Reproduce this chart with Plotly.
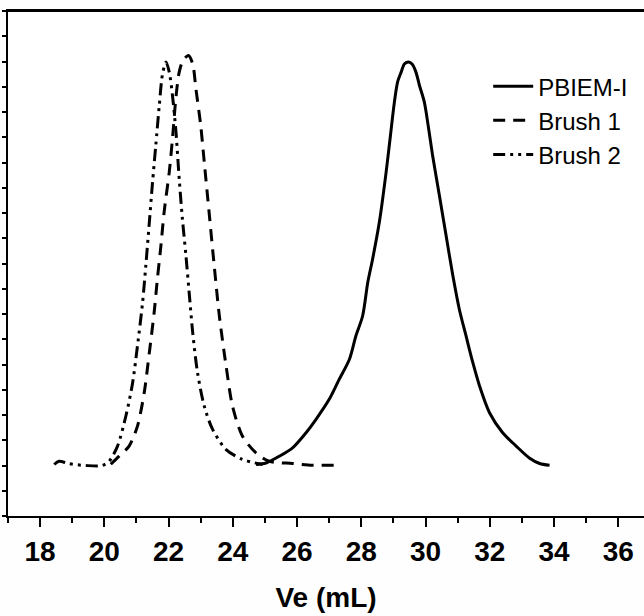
import plotly.graph_objects as go

# PBIEM-I (solid)
pb_x = [24.72, 25.03, 25.45, 25.86, 26.28, 26.59, 27.0, 27.31, 27.63, 27.83, 28.04, 28.2, 28.35,
        28.56, 28.77, 28.9, 29.03, 29.13, 29.24, 29.34, 29.47, 29.58, 29.7, 29.81, 29.96,
        30.1, 30.22, 30.43, 30.64, 30.85, 31.05, 31.26, 31.47, 31.68, 31.99, 32.4, 32.82,
        33.23, 33.55, 33.86]
pb_y = [0.04, 0.1, 0.37, 0.70, 1.3, 1.83, 2.62, 3.41, 4.21, 5.13, 5.92, 7.25, 8.17,
        9.63, 11.6, 13.0, 14.4, 15.19, 15.58, 15.9, 15.98, 15.9, 15.58, 15.05, 14.4,
        13.3, 12.27, 10.69, 9.1, 7.51, 6.19, 5.13, 4.08, 3.15, 2.09, 1.3, 0.77,
        0.3, 0.08, 0.01]

# Brush 1 (dashed)
b1_x = [20.2, 20.46, 20.77, 21.03, 21.24, 21.4, 21.55, 21.65, 21.76, 21.86, 22.02, 22.12, 22.23,
        22.33, 22.45, 22.62, 22.75, 22.85, 23.0, 23.11, 23.26, 23.42, 23.58, 23.79, 23.99,
        24.3, 24.72, 25.13, 25.86, 26.48, 27.16]
b1_y = [0.05, 0.37, 0.77, 1.56, 2.88, 4.47, 6.06, 7.38, 8.7, 10.03, 11.62, 12.94, 14.6,
        15.58, 16.05, 16.24, 15.9, 14.92, 13.46, 12.01, 10.03, 7.91, 5.92, 3.94, 2.35,
        1.16, 0.5, 0.17, 0.08, 0.01, 0.01]

# Brush 2 (dash-dot-dot)
b2_x = [18.44, 18.59, 18.9, 19.42, 19.94, 20.15, 20.41, 20.67, 20.88, 21.03, 21.19, 21.29, 21.4,
        21.5, 21.6, 21.71, 21.81, 21.92, 22.02, 22.12, 22.23, 22.33, 22.43, 22.54, 22.64,
        22.75, 22.9, 23.11, 23.37, 23.79, 24.3, 24.93]
b2_y = [0.04, 0.17, 0.07, 0.0, 0.0, 0.17, 0.77, 1.96, 3.28, 4.73, 6.46, 7.91, 9.63,
        11.22, 12.67, 14.26, 15.5, 15.98, 15.58, 14.66, 13.2, 11.35, 9.76, 8.31, 6.85,
        5.27, 3.68, 2.35, 1.43, 0.63, 0.24, 0.04]

names = ["PBIEM-I", "Brush 1", "Brush 2"]
dashes = ["solid", "12px,8px", "12px,5px,3px,5px,3px,5px"]

fig = go.Figure()
for xs, ys, nm, ds in zip([pb_x, b1_x, b2_x], [pb_y, b1_y, b2_y], names, dashes):
    fig.add_trace(go.Scatter(x=xs, y=ys, mode="lines", name=nm,
                             line=dict(color="black", width=3, dash=ds, shape="spline", smoothing=0.8)))

# top frame line
fig.add_shape(type="line", xref="paper", yref="paper", x0=0, x1=1, y0=1, y1=1,
              line=dict(color="black", width=2), layer="above")

fig.update_layout(
    width=644, height=616,
    margin=dict(l=8, r=0, t=11, b=100),
    paper_bgcolor="#fefefe", plot_bgcolor="#ffffff",
    font=dict(family="Liberation Sans, Arial, sans-serif", color="black"),
    showlegend=True,
    legend=dict(x=0.755, y=0.895, xanchor="left", yanchor="top",
                font=dict(size=24, family="Liberation Sans, Arial, sans-serif"),
                bgcolor="rgba(0,0,0,0)", itemwidth=40),
    xaxis=dict(range=[17, 36.8], tickmode="linear", tick0=18, dtick=2,
               ticks="outside", ticklen=9, tickwidth=2, tickcolor="black",
               minor=dict(dtick=1, tick0=17, ticks="outside", ticklen=5, tickwidth=2, tickcolor="black"),
               showline=True, linewidth=2, linecolor="black", mirror=True,
               showgrid=False, zeroline=False,
               tickfont=dict(size=28, weight="bold"),
               title=dict(text="Ve (mL)", font=dict(size=28, weight="bold"), standoff=22)),
    yaxis=dict(range=[-2, 18], tickmode="linear", tick0=0, dtick=1,
               ticks="outside", ticklen=4, tickwidth=2, tickcolor="black",
               showticklabels=False, automargin=False,
               showline=True, linewidth=2, linecolor="black", mirror=False,
               showgrid=False, zeroline=False),
)

fig.write_html("out.html", config={"displayModeBar": False})
